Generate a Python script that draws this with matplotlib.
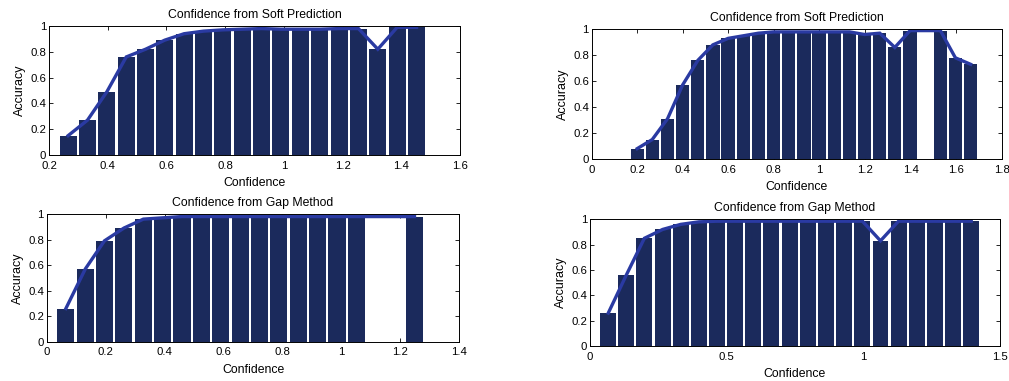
import numpy as np
import matplotlib
matplotlib.use("Agg")
import matplotlib.pyplot as plt
from matplotlib.ticker import FuncFormatter

BAR_COLOR = "#1b2a5c"
LINE_COLOR = "#2a3aa2"

# top-left: soft prediction
soft_a_x = [0.265, 0.331, 0.397, 0.463, 0.529, 0.594, 0.660, 0.726, 0.792, 0.858,
            0.924, 0.990, 1.056, 1.122, 1.188, 1.254, 1.320, 1.386, 1.452]
soft_a_acc = [0.15, 0.27, 0.49, 0.76, 0.82, 0.89, 0.94, 0.96, 0.97, 0.975,
              0.98, 0.975, 0.975, 0.975, 0.98, 0.98, 0.82, 0.99, 0.99]

# top-right: soft prediction
soft_b_x = [0.200, 0.266, 0.333, 0.399, 0.466, 0.532, 0.599, 0.666, 0.732, 0.799,
            0.865, 0.932, 0.998, 1.065, 1.132, 1.198, 1.265, 1.331, 1.398, 1.464,
            1.531, 1.597, 1.664]
soft_b_acc = [0.08, 0.15, 0.31, 0.57, 0.76, 0.88, 0.93, 0.95, 0.97, 0.98,
              0.98, 0.98, 0.98, 0.98, 0.98, 0.96, 0.97, 0.86, 0.99, np.nan,
              0.99, 0.78, 0.73]

# bottom-left: gap method
gap_a_x = [0.065, 0.131, 0.196, 0.262, 0.328, 0.393, 0.459, 0.525, 0.591, 0.656,
           0.722, 0.788, 0.854, 0.919, 0.985, 1.051, 1.117, 1.183, 1.248]
gap_a_acc = [0.26, 0.57, 0.79, 0.89, 0.96, 0.97, 0.98, 0.98, 0.98, 0.98,
             0.98, 0.98, 0.98, 0.98, 0.98, 0.98, np.nan, np.nan, 0.98]

# bottom-right: gap method
gap_b_x = [0.067, 0.133, 0.199, 0.266, 0.332, 0.399, 0.465, 0.532, 0.598, 0.664,
           0.731, 0.797, 0.864, 0.930, 0.997, 1.063, 1.129, 1.196, 1.262, 1.329,
           1.395]
gap_b_acc = [0.26, 0.56, 0.85, 0.92, 0.96, 0.98, 0.985, 0.985, 0.985, 0.985,
             0.985, 0.985, 0.985, 0.985, 0.985, 0.83, 0.985, 0.985, 0.985, 0.985,
             0.985]

plt.rcParams["font.family"] = ["Liberation Sans", "DejaVu Sans"]


def g_fmt(v, pos):
    return "%g" % round(v, 6)


def draw_panel(fig, rect, title, xs, acc, xlim, xticks):
    ax = fig.add_axes(rect)
    xs = np.array(xs)
    acc = np.array(acc, dtype=float)
    width = (xs[-1] - xs[0]) / (len(xs) - 1) * 0.88
    ok = ~np.isnan(acc)
    ax.bar(xs[ok], acc[ok], width=width, color=BAR_COLOR, edgecolor="none", zorder=2)
    # line only joins the bins that have data, so it bridges empty bins
    ax.plot(xs[ok], acc[ok], color=LINE_COLOR, lw=2.4, zorder=3,
            solid_joinstyle="miter")
    ax.set_xlim(*xlim)
    ax.set_ylim(0, 1)
    ax.set_xticks(xticks)
    ax.set_yticks([0, 0.2, 0.4, 0.6, 0.8, 1])
    ax.xaxis.set_major_formatter(FuncFormatter(g_fmt))
    ax.yaxis.set_major_formatter(FuncFormatter(g_fmt))
    ax.tick_params(direction="in", length=3, width=0.6, top=True, right=True,
                   labelsize=8.2)
    ax.tick_params(axis="x", pad=4)
    ax.tick_params(axis="y", pad=2)
    for s in ax.spines.values():
        s.set_linewidth(0.7)
        s.set_zorder(4)
    ax.set_title(title, fontsize=8.8, pad=6)
    ax.set_xlabel("Confidence", fontsize=8.8, labelpad=5)
    ax.set_ylabel("Accuracy", fontsize=9, labelpad=3)
    return ax


fig = plt.figure(figsize=(10.09, 3.81), dpi=100)

draw_panel(fig, [0.0486, 0.5932, 0.4073, 0.3386], "Confidence from Soft Prediction",
           soft_a_x, soft_a_acc, (0.2, 1.6), [0.2, 0.4, 0.6, 0.8, 1.0, 1.2, 1.4, 1.6])
draw_panel(fig, [0.5864, 0.5827, 0.4063, 0.3404], "Confidence from Soft Prediction",
           soft_b_x, soft_b_acc, (0, 1.8),
           [0, 0.2, 0.4, 0.6, 0.8, 1.0, 1.2, 1.4, 1.6, 1.8])
draw_panel(fig, [0.0463, 0.1031, 0.4089, 0.3352], "Confidence from Gap Method",
           gap_a_x, gap_a_acc, (0, 1.4), [0, 0.2, 0.4, 0.6, 0.8, 1.0, 1.2, 1.4])
draw_panel(fig, [0.5847, 0.0919, 0.4063, 0.3325], "Confidence from Gap Method",
           gap_b_x, gap_b_acc, (0, 1.5), [0, 0.5, 1.0, 1.5])

fig.savefig("out.png", dpi=100)
